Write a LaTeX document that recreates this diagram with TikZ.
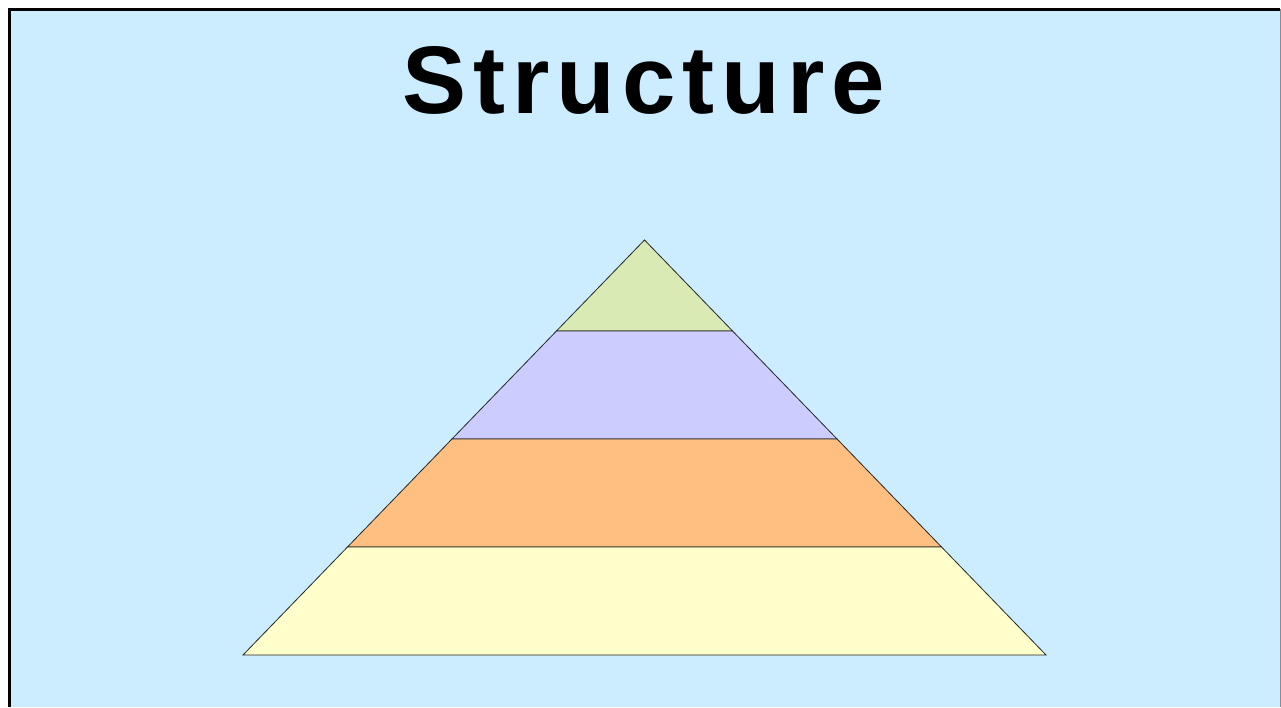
\documentclass[tikz,border=0pt]{standalone}
\usepackage{fontspec}
\setmainfont{Liberation Sans}
\definecolor{slideblue}{HTML}{CCECFF}
\definecolor{tiergreen}{HTML}{D9EAB4}
\definecolor{tierviolet}{HTML}{CCCCFF}
\definecolor{tierorange}{HTML}{FFBF80}
\definecolor{tieryellow}{HTML}{FFFFCC}
\tikzset{
  tier/.style={draw=black!85,line width=0.8pt,line join=miter},
  heading/.style={font=\bfseries\fontsize{96}{100}\selectfont\addfontfeature{LetterSpace=7.2},inner sep=0pt,anchor=base}
}

\begin{document}
\begin{tikzpicture}[x=1pt,y=-1pt]
  \useasboundingbox (0,0) rectangle (1281,707);
  \fill[white] (0,0) rectangle (1281,707);
  \fill[slideblue] (9,9) rectangle (1280,707);
  \draw[line width=2.5pt] (9.25,707) -- (9.25,9.25) -- (1280,9.25);
  \draw[black!45,line width=1pt] (1280,9) -- (1280,707);
  % title
  \node[heading] (title) at (644,113) {Structure};
  % pyramid, one tier at a time
  \coordinate (apex) at (644.5,240);
  \foreach \ya/\yb/\col in {240/331/tiergreen,331/439/tierviolet,439/547/tierorange,547/655/tieryellow}{
    \filldraw[tier,fill=\col] ({644.5-0.9675*(\ya-240)},\ya) -- ({644.5+0.9675*(\ya-240)},\ya)
      -- ({644.5+0.9675*(\yb-240)},\yb) -- ({644.5-0.9675*(\yb-240)},\yb) -- cycle;
  }
\end{tikzpicture}
\end{document}
